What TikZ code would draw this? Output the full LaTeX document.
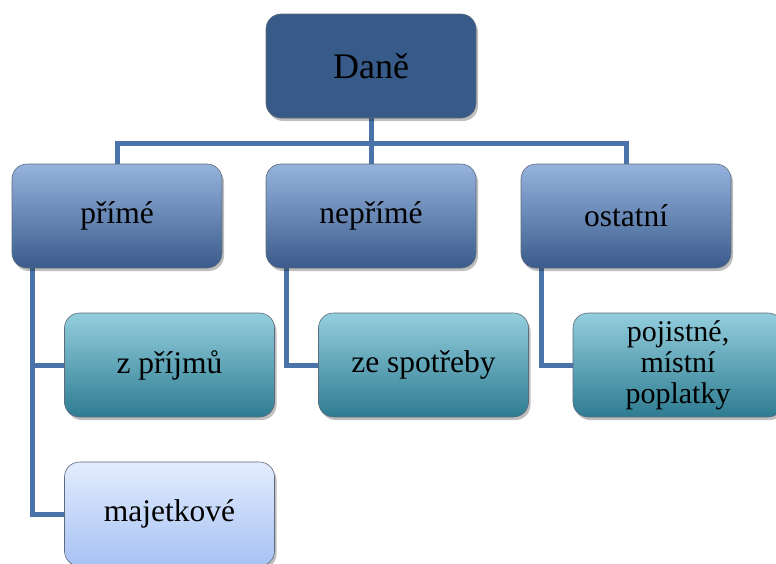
\documentclass[tikz,border=0pt]{standalone}
\usepackage{fontspec}
\setmainfont{Liberation Serif}
\usetikzlibrary{shadows,backgrounds}
\definecolor{topblue}{HTML}{375A89}
\definecolor{lvtop}{HTML}{95B3DD}
\definecolor{lvmid}{HTML}{4F7DBD}
\definecolor{lvbot}{HTML}{3A5B8C}
\definecolor{tltop}{HTML}{93CEDD}
\definecolor{tlmid}{HTML}{4AA8C2}
\definecolor{tlbot}{HTML}{2E7C92}
\definecolor{mjtop}{HTML}{E3ECFE}
\definecolor{mjbot}{HTML}{A7C2F4}
\definecolor{linkc}{HTML}{4A73AA}
\definecolor{edgec}{HTML}{5E6B7C}
\tikzset{
  box/.style={rounded corners=15pt, minimum width=210pt, minimum height=104pt,
    draw=edgec, line width=0.6pt, align=center, text=black,
    drop shadow={shadow xshift=2pt, shadow yshift=-3pt, opacity=0.25, fill=black}},
  rootbox/.style={box, fill=topblue, font=\fontsize{36}{40}\selectfont},
  midbox/.style={box, top color=lvtop, middle color=lvmid, bottom color=lvbot, font=\fontsize{31.5}{34}\selectfont},
  tealbox/.style={box, top color=tltop, middle color=tlmid, bottom color=tlbot, font=\fontsize{31.5}{34}\selectfont},
  lightbox/.style={box, top color=mjtop, bottom color=mjbot, font=\fontsize{31.5}{34}\selectfont},
  link/.style={draw=linkc, line width=5pt}
}
\begin{document}
\begin{tikzpicture}[x=1pt,y=-1pt]
\useasboundingbox (0,0) rectangle (776,563);
\clip (0,0) rectangle (776,563);
\node[rootbox] (dane) at (371,66) {Daně};
\node[midbox] (prime) at (117,216) {přímé};
\node[midbox] (neprime) at (371,216) {nepřímé};
\node[midbox] (ostatni) at (626,216) {ostatní};
\node[tealbox] (prijmu) at (169.5,365) {z příjmů};
\node[tealbox] (spotreby) at (423.5,365) {ze spotřeby};
\node[tealbox, font=\fontsize{30}{31}\selectfont] (pojistne) at (678,365) {pojistné,\\místní\\poplatky};
\node[lightbox] (majet) at (169.5,514) {majetkové};
\coordinate (bus) at (371,143);
\coordinate (pa) at ([xshift=21pt]prime.south west);
\coordinate (na) at ([xshift=21pt]neprime.south west);
\coordinate (oa) at ([xshift=21pt]ostatni.south west);
\begin{scope}[on background layer]
\draw[link] (dane.south) -- (neprime.north);
\draw[link] (prime.north) |- (bus) -| (ostatni.north);
\draw[link] (pa) |- (prijmu.west);
\draw[link] (pa) |- (majet.west);
\draw[link] (na) |- (spotreby.west);
\draw[link] (oa) |- (pojistne.west);
\end{scope}
\end{tikzpicture}
\end{document}
